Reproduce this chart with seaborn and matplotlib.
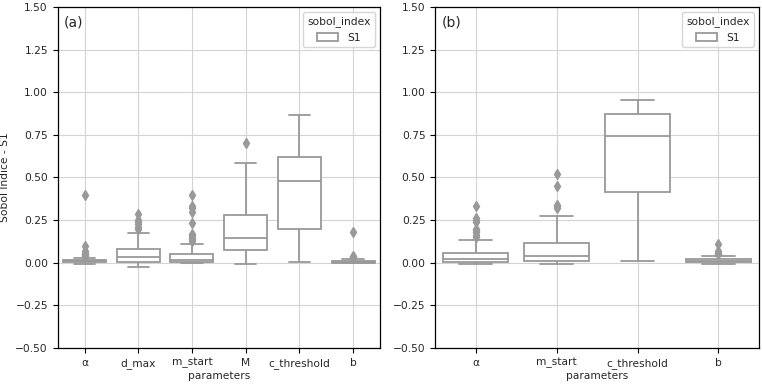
import numpy as np
import pandas as pd
import matplotlib
matplotlib.use("Agg")
import matplotlib.pyplot as plt
import seaborn as sns

# ---------------- data ----------------
params_a = ["α", "d_max", "m_start", "M", "c_threshold", "b"]
q1_a = [0.003, 0.005, 0.002, 0.072, 0.197, 0.001]
med_a = [0.008, 0.031, 0.016, 0.147, 0.481, 0.006]
q3_a = [0.015, 0.080, 0.051, 0.279, 0.619, 0.012]
lo_a = [-0.005, -0.023, 0.000, -0.008, 0.004, -0.004]
hi_a = [0.030, 0.172, 0.109, 0.585, 0.866, 0.024]
fliers_a = [
    [0.040, 0.045, 0.050, 0.060, 0.070, 0.100, 0.400],
    [0.200, 0.210, 0.225, 0.240, 0.250, 0.285],
    [0.130, 0.140, 0.150, 0.160, 0.170, 0.235, 0.300, 0.320, 0.330, 0.400],
    [0.703],
    [],
    [0.032, 0.036, 0.040, 0.180],
]

params_b = ["α", "m_start", "c_threshold", "b"]
q1_b = [0.002, 0.010, 0.412, 0.002]
med_b = [0.023, 0.037, 0.746, 0.010]
q3_b = [0.059, 0.118, 0.871, 0.020]
lo_b = [-0.008, -0.010, 0.008, -0.005]
hi_b = [0.135, 0.273, 0.955, 0.037]
fliers_b = [
    [0.150, 0.160, 0.180, 0.190, 0.200, 0.240, 0.250, 0.260, 0.334],
    [0.320, 0.330, 0.340, 0.453, 0.518],
    [],
    [0.050, 0.060, 0.070, 0.110],
]

yticks = [-0.50, -0.25, 0.00, 0.25, 0.50, 0.75, 1.00, 1.25, 1.50]


def build_sample(q1, med, q3, lo, hi, fl):
    """Sorted sample whose quartiles/whiskers/fliers equal the given stats."""
    k = len(fl) + 2
    low = [lo] + [q1] * (k - 1)
    mid = [q1] + [med] * (2 * k - 1) + [q3]
    high = [q3] * (k - 1 - len(fl)) + [hi] + list(fl)
    return low + mid + high


def make_frame(params, q1, med, q3, lo, hi, fliers):
    rows = []
    for i, p in enumerate(params):
        for v in build_sample(q1[i], med[i], q3[i], lo[i], hi[i], fliers[i]):
            rows.append({"parameters": p, "value": v, "sobol_index": "S1"})
    return pd.DataFrame(rows)


df_a = make_frame(params_a, q1_a, med_a, q3_a, lo_a, hi_a, fliers_a)
df_b = make_frame(params_b, q1_b, med_b, q3_b, lo_b, hi_b, fliers_b)

# ---------------- style ----------------
sns.set_style("ticks")
plt.rcParams["font.family"] = ["DejaVu Sans"]
plt.rcParams["font.size"] = 7.7
plt.rcParams["axes.unicode_minus"] = True

gray = "#999999"

fig = plt.figure(figsize=(7.62, 3.85), dpi=100)
ax_a = fig.add_axes([0.0757, 0.096, 0.423, 0.886])
ax_b = fig.add_axes([0.571, 0.096, 0.425, 0.886])

for ax, df, params, lab in [(ax_a, df_a, params_a, "(a)"), (ax_b, df_b, params_b, "(b)")]:
    sns.boxplot(
        data=df, x="parameters", y="value", hue="sobol_index",
        order=params, palette=["white"], linecolor=gray, linewidth=1.3,
        width=0.8, whis=1.5, ax=ax,
        flierprops=dict(marker="d", markerfacecolor=gray, markeredgecolor=gray,
                        markersize=5),
    )
    ax.set_ylim(-0.5, 1.5)
    ax.set_yticks(yticks)
    ax.set_yticklabels([f"{t:.2f}".replace("-", "\u2212") for t in yticks])
    ax.grid(True, color="#d4d4d4", linewidth=0.8)
    ax.set_axisbelow(True)
    for s in ax.spines.values():
        s.set_color("black")
        s.set_linewidth(0.9)
    ax.tick_params(axis="both", labelsize=7.7, length=3.5, width=0.8, color="black")
    ax.set_xlabel("parameters", fontsize=7.7, labelpad=2)
    ax.text(0.02, 0.975, lab, transform=ax.transAxes, fontsize=10, va="top", ha="left")
    leg = ax.legend(title="sobol_index", loc="upper right", fontsize=7.7,
                    title_fontsize=7.7, frameon=True, fancybox=True)
    leg.get_frame().set_edgecolor("#cccccc")

ax_a.set_ylabel("Sobol Indice - S1", fontsize=7.7)
ax_b.set_ylabel("")

fig.savefig("out.png", dpi=100)
